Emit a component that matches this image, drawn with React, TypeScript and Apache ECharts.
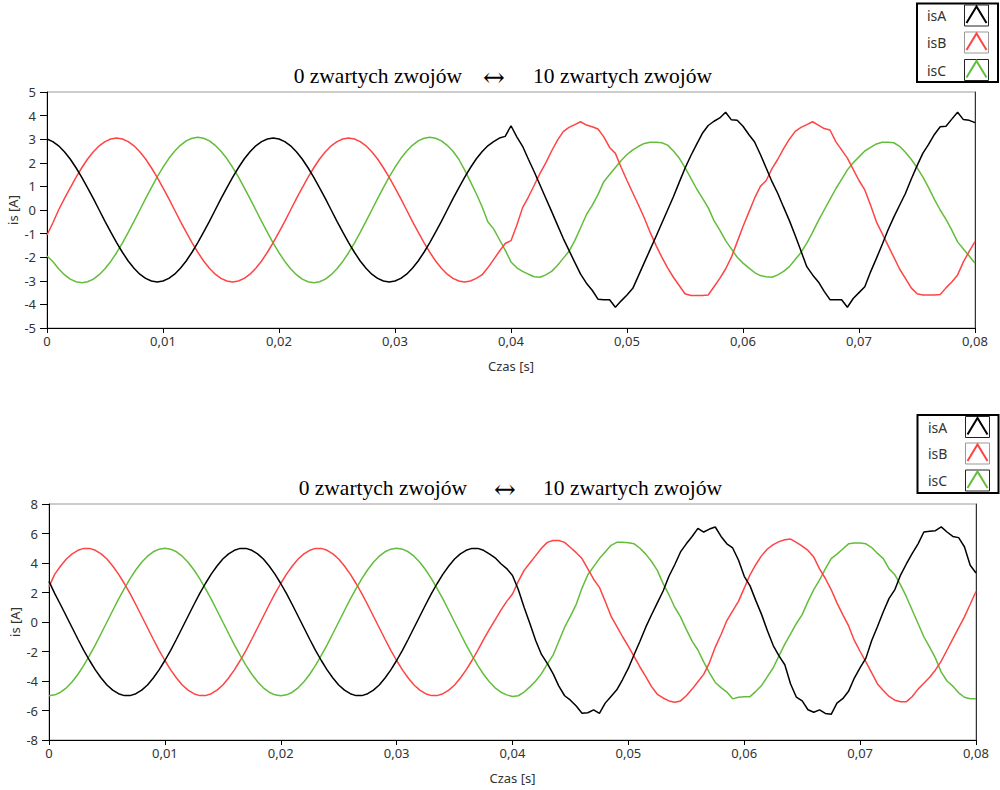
import React, { useEffect, useRef } from "react";
import * as echarts from "echarts";

// sample times in milliseconds (0 .. 80 ms)
const T_MS = [
  0, 0.5, 1, 1.5, 2, 2.5, 3, 3.5, 4, 4.5, 5, 5.5, 6, 6.5, 7, 7.5, 8, 8.5, 9, 9.5,
  10, 10.5, 11, 11.5, 12, 12.5, 13, 13.5, 14, 14.5, 15, 15.5, 16, 16.5, 17, 17.5, 18, 18.5, 19, 19.5,
  20, 20.5, 21, 21.5, 22, 22.5, 23, 23.5, 24, 24.5, 25, 25.5, 26, 26.5, 27, 27.5, 28, 28.5, 29, 29.5,
  30, 30.5, 31, 31.5, 32, 32.5, 33, 33.5, 34, 34.5, 35, 35.5, 36, 36.5, 37, 37.5, 38, 38.5, 39, 39.5,
  40, 40.5, 41, 41.5, 42, 42.5, 43, 43.5, 44, 44.5, 45, 45.5, 46, 46.5, 47, 47.5, 48, 48.5, 49, 49.5,
  50, 50.5, 51, 51.5, 52, 52.5, 53, 53.5, 54, 54.5, 55, 55.5, 56, 56.5, 57, 57.5, 58, 58.5, 59, 59.5,
  60, 60.5, 61, 61.5, 62, 62.5, 63, 63.5, 64, 64.5, 65, 65.5, 66, 66.5, 67, 67.5, 68, 68.5, 69, 69.5,
  70, 70.5, 71, 71.5, 72, 72.5, 73, 73.5, 74, 74.5, 75, 75.5, 76, 76.5, 77, 77.5, 78, 78.5, 79, 79.5,
  80,
];

// ---- top chart (A) ----
const TOP_ISA = [
  3.01, 2.9, 2.72, 2.47, 2.16, 1.79, 1.38, 0.94, 0.48, 0, -0.48, -0.94, -1.38, -1.79, -2.16, -2.47, -2.72, -2.9, -3.01, -3.05,
  -3.01, -2.9, -2.72, -2.47, -2.16, -1.79, -1.38, -0.94, -0.48, 0, 0.48, 0.94, 1.38, 1.79, 2.16, 2.47, 2.72, 2.9, 3.01, 3.05,
  3.01, 2.9, 2.72, 2.47, 2.16, 1.79, 1.38, 0.94, 0.48, 0, -0.48, -0.94, -1.38, -1.79, -2.16, -2.47, -2.72, -2.9, -3.01, -3.05,
  -3.01, -2.9, -2.72, -2.47, -2.16, -1.79, -1.38, -0.94, -0.48, 0, 0.48, 0.94, 1.38, 1.79, 2.16, 2.47, 2.72, 2.9, 3.05, 3.12,
  3.57, 3.1, 2.7, 2.15, 1.62, 1.06, 0.5, -0.06, -0.63, -1.2, -1.71, -2.22, -2.72, -3.1, -3.4, -3.78, -3.8, -3.8, -4.12, -3.85,
  -3.6, -3.32, -2.77, -2.22, -1.67, -1.12, -0.56, 0.0, 0.56, 1.17, 1.77, 2.3, 2.78, 3.25, 3.58, 3.76, 3.9, 4.14, 3.82, 3.8,
  3.55, 3.2, 2.88, 2.35, 1.78, 1.2, 0.7, 0.12, -0.45, -1.08, -1.74, -2.4, -2.75, -3.05, -3.45, -3.8, -3.8, -3.8, -4.12, -3.75,
  -3.5, -3.25, -2.62, -2.05, -1.46, -0.85, -0.3, 0.2, 0.7, 1.3, 1.87, 2.4, 2.78, 3.2, 3.53, 3.55, 3.85, 4.14, 3.83, 3.8,
  3.7,
];
const TOP_ISB = [
  -1.06, -0.55, 0, 0.48, 0.94, 1.38, 1.79, 2.16, 2.47, 2.72, 2.9, 3.01, 3.05, 3.01, 2.9, 2.72, 2.47, 2.16, 1.79, 1.38,
  0.94, 0.48, 0, -0.48, -0.94, -1.38, -1.79, -2.16, -2.47, -2.72, -2.9, -3.01, -3.05, -3.01, -2.9, -2.72, -2.47, -2.16, -1.79, -1.38,
  -0.94, -0.48, 0, 0.48, 0.94, 1.38, 1.79, 2.16, 2.47, 2.72, 2.9, 3.01, 3.05, 3.01, 2.9, 2.72, 2.47, 2.16, 1.79, 1.38,
  0.94, 0.48, 0, -0.48, -0.94, -1.38, -1.79, -2.16, -2.47, -2.72, -2.9, -3.01, -3.05, -3.01, -2.9, -2.75, -2.45, -2.1, -1.75, -1.42,
  -1.3, -0.65, 0.1, 0.55, 1.05, 1.55, 2.0, 2.5, 2.95, 3.32, 3.5, 3.62, 3.74, 3.6, 3.53, 3.43, 3.1, 2.65, 2.4, 1.8,
  1.25, 0.72, 0.2, -0.35, -0.95, -1.5, -2.0, -2.45, -2.85, -3.2, -3.55, -3.62, -3.62, -3.62, -3.6, -3.25, -2.9, -2.5, -2.0, -1.35,
  -0.7, -0.1, 0.5, 1.0, 1.25, 1.75, 2.15, 2.6, 3.0, 3.33, 3.5, 3.62, 3.74, 3.6, 3.45, 3.39, 2.9, 2.55, 2.2, 1.72,
  1.25, 0.85, 0.2, -0.5, -1.0, -1.5, -2.0, -2.5, -2.9, -3.3, -3.55, -3.6, -3.6, -3.6, -3.58, -3.3, -3.05, -2.75, -2.2, -1.75,
  -1.34,
];
const TOP_ISC = [
  -1.95, -2.18, -2.49, -2.74, -2.93, -3.04, -3.08, -3.04, -2.93, -2.74, -2.49, -2.18, -1.81, -1.4, -0.95, -0.48, 0, 0.48, 0.95, 1.4,
  1.81, 2.18, 2.49, 2.74, 2.93, 3.04, 3.08, 3.04, 2.93, 2.74, 2.49, 2.18, 1.81, 1.4, 0.95, 0.48, 0, -0.48, -0.95, -1.4,
  -1.81, -2.18, -2.49, -2.74, -2.93, -3.04, -3.08, -3.04, -2.93, -2.74, -2.49, -2.18, -1.81, -1.4, -0.95, -0.48, 0, 0.48, 0.95, 1.4,
  1.81, 2.18, 2.49, 2.74, 2.93, 3.04, 3.08, 3.04, 2.93, 2.74, 2.49, 2.15, 1.7, 1.2, 0.7, 0.15, -0.5, -0.8, -1.25, -1.7,
  -2.2, -2.45, -2.6, -2.72, -2.83, -2.85, -2.75, -2.6, -2.35, -2.05, -1.75, -1.3, -0.75, -0.2, 0.2, 0.65, 1.2, 1.5, 1.8, 2.1,
  2.35, 2.55, 2.7, 2.82, 2.87, 2.87, 2.85, 2.75, 2.5, 2.2, 1.8, 1.35, 0.9, 0.5, 0.1, -0.45, -0.85, -1.3, -1.65, -2.0,
  -2.25, -2.45, -2.65, -2.78, -2.83, -2.85, -2.75, -2.6, -2.4, -2.1, -1.8, -1.4, -0.95, -0.45, 0.0, 0.45, 0.9, 1.3, 1.7, 2.0,
  2.25, 2.5, 2.65, 2.8, 2.87, 2.87, 2.85, 2.7, 2.45, 2.15, 1.8, 1.4, 0.95, 0.45, 0.0, -0.4, -0.85, -1.35, -1.65, -1.95,
  -2.26,
];

// ---- bottom chart (B) ----
const BOT_ISA = [
  2.75, 1.92, 1.17, 0.39, -0.39, -1.17, -1.92, -2.61, -3.25, -3.8, -4.27, -4.62, -4.86, -4.99, -4.99, -4.86, -4.62, -4.27, -3.8, -3.25,
  -2.61, -1.92, -1.17, -0.39, 0.39, 1.17, 1.92, 2.61, 3.25, 3.8, 4.27, 4.62, 4.86, 4.99, 4.99, 4.86, 4.62, 4.27, 3.8, 3.25,
  2.61, 1.92, 1.17, 0.39, -0.39, -1.17, -1.92, -2.61, -3.25, -3.8, -4.27, -4.62, -4.86, -4.99, -4.99, -4.86, -4.62, -4.27, -3.8, -3.25,
  -2.61, -1.92, -1.17, -0.39, 0.39, 1.17, 1.92, 2.61, 3.25, 3.8, 4.27, 4.62, 4.86, 4.99, 4.99, 4.86, 4.62, 4.35, 3.95, 3.62,
  3.15, 2.2, 1.0, -0.1, -1.25, -2.2, -2.8, -3.5, -4.35, -5.0, -5.3, -5.7, -6.19, -6.15, -5.96, -6.19, -5.5, -5.05, -4.6, -3.9,
  -3.13, -2.2, -1.3, -0.35, 0.49, 1.3, 2.1, 3.1, 3.88, 4.75, 5.3, 5.8, 6.35, 6.1, 6.3, 6.44, 5.8, 5.3, 5.02, 4.2,
  3.1, 2.45, 1.45, 0.5, -0.6, -1.6, -2.3, -2.9, -4.2, -5.1, -5.35, -5.95, -6.12, -5.96, -6.2, -6.26, -5.5, -5.2, -4.7, -3.8,
  -3.1, -2.45, -1.25, -0.3, 0.7, 1.6, 2.2, 3.2, 3.95, 4.65, 5.3, 6.1, 6.15, 6.19, 6.45, 6.1, 5.8, 5.72, 5.1, 3.85,
  3.32,
];
const BOT_ISB = [
  2.4, 3.25, 3.8, 4.27, 4.62, 4.86, 4.99, 4.99, 4.86, 4.62, 4.27, 3.8, 3.25, 2.61, 1.92, 1.17, 0.39, -0.39, -1.17, -1.92,
  -2.61, -3.25, -3.8, -4.27, -4.62, -4.86, -4.99, -4.99, -4.86, -4.62, -4.27, -3.8, -3.25, -2.61, -1.92, -1.17, -0.39, 0.39, 1.17, 1.92,
  2.61, 3.25, 3.8, 4.27, 4.62, 4.86, 4.99, 4.99, 4.86, 4.62, 4.27, 3.8, 3.25, 2.61, 1.92, 1.17, 0.39, -0.39, -1.17, -1.92,
  -2.61, -3.25, -3.8, -4.27, -4.62, -4.86, -4.99, -4.99, -4.86, -4.62, -4.27, -3.8, -3.25, -2.61, -1.92, -1.2, -0.5, 0.15, 0.8, 1.4,
  1.9, 2.75, 3.5, 4.0, 4.5, 5.0, 5.4, 5.53, 5.53, 5.4, 5.05, 4.7, 4.3, 3.6, 2.9, 2.35, 1.4, 0.4, -0.3, -1.0,
  -1.65, -2.35, -3.05, -3.7, -4.38, -4.9, -5.15, -5.35, -5.44, -5.35, -5.0, -4.55, -4.05, -3.55, -2.75, -1.7, -0.85, 0.1, 0.75, 1.4,
  2.3, 3.2, 3.9, 4.5, 4.95, 5.24, 5.45, 5.58, 5.62, 5.4, 5.15, 4.85, 4.4, 3.6, 2.95, 2.2, 1.3, 0.5, -0.25, -1.25,
  -2.0, -2.7, -3.45, -4.2, -4.65, -5.05, -5.3, -5.4, -5.4, -5.05, -4.55, -4.15, -3.75, -3.25, -2.65, -1.9, -1.15, -0.4, 0.35, 1.2,
  2.07,
];
const BOT_ISC = [
  -5.0, -4.94, -4.76, -4.46, -4.05, -3.54, -2.94, -2.27, -1.55, -0.78, 0, 0.78, 1.55, 2.27, 2.94, 3.54, 4.05, 4.46, 4.76, 4.94,
  5.0, 4.94, 4.76, 4.46, 4.05, 3.54, 2.94, 2.27, 1.55, 0.78, 0, -0.78, -1.55, -2.27, -2.94, -3.54, -4.05, -4.46, -4.76, -4.94,
  -5.0, -4.94, -4.76, -4.46, -4.05, -3.54, -2.94, -2.27, -1.55, -0.78, 0, 0.78, 1.55, 2.27, 2.94, 3.54, 4.05, 4.46, 4.76, 4.94,
  5.0, 4.94, 4.76, 4.46, 4.05, 3.54, 2.94, 2.27, 1.55, 0.78, 0, -0.78, -1.55, -2.27, -2.94, -3.54, -4.05, -4.46, -4.76, -4.94,
  -5.05, -5.0, -4.75, -4.4, -4.0, -3.5, -2.85, -2.25, -1.3, -0.35, 0.4, 1.2, 2.3, 3.2, 3.75, 4.3, 4.75, 5.2, 5.4, 5.4,
  5.38, 5.3, 5.0, 4.6, 4.1, 3.5, 2.6, 1.85, 1.0, 0.35, -0.5, -1.3, -1.9, -2.7, -3.45, -4.1, -4.45, -4.75, -5.21, -5.1,
  -5.06, -5.06, -4.7, -4.3, -3.7, -3.1, -2.3, -1.5, -0.8, -0.1, 0.5, 1.4, 2.2, 2.85, 3.6, 4.3, 4.6, 4.95, 5.3, 5.36,
  5.35, 5.3, 5.05, 4.65, 4.3, 3.6, 3.2, 2.5, 1.7, 0.8, -0.1, -1.0, -1.7, -2.45, -3.4, -4.0, -4.35, -4.8, -5.1, -5.2,
  -5.21,
];

const SERIES_NAMES = ["isA", "isB", "isC"];
const SERIES_COLORS = ["#000000", "#ff4444", "#63bd3b"];
const TITLE_LEFT = "0 zwartych zwojów";
const TITLE_ARROW = "↔";
const TITLE_RIGHT = "10 zwartych zwojów";
const X_NAME = "Czas [s]";
const Y_NAME = "is [A]";
const TOP_Y = { min: -5, max: 5, interval: 1 };
const BOT_Y = { min: -8, max: 8, interval: 2 };

const SANS = "'Segoe UI', 'Noto Sans', 'Open Sans', sans-serif";
const SERIF = "'Liberation Serif', 'Times New Roman', serif";

function pairs(vals: number[]) {
  return T_MS.map((t, i) => [t, vals[i]]);
}

export default function App() {
  const ref = useRef<HTMLDivElement>(null);

  useEffect(() => {
    const chart = echarts.init(ref.current!, null, { renderer: "svg" });

    const grids = [
      { left: 47, top: 92, width: 928, height: 236 },
      { left: 49, top: 504, width: 927, height: 236 },
    ];

    const xFmt = (v: number) => (v === 0 ? "0" : (v / 1000).toFixed(2).replace(".", ","));

    const xAxes = grids.map((_, gi) => ({
      type: "value",
      gridIndex: gi,
      min: 0,
      max: 80,
      interval: 10,
      axisLine: { show: true, onZero: false, lineStyle: { color: "#000", width: 1 } },
      axisTick: { show: true, length: 5, lineStyle: { color: "#000" } },
      axisLabel: { formatter: xFmt, color: "#333", fontSize: 13, fontFamily: SANS, margin: 6 },
      splitLine: { show: false },
      name: X_NAME,
      nameLocation: "middle",
      nameGap: 31,
      nameMoveOverlap: false,
      nameTextStyle: { color: "#333", fontSize: 13, fontFamily: SANS },
    }));

    const yCfg = [TOP_Y, BOT_Y];
    const yAxes: any[] = yCfg.map((c, gi) => ({
      type: "value",
      gridIndex: gi,
      min: c.min,
      max: c.max,
      interval: c.interval,
      axisLine: { show: true, onZero: false, lineStyle: { color: "#000", width: 1 } },
      axisTick: { show: true, length: 7, lineStyle: { color: "#000" } },
      axisLabel: { color: "#333", fontSize: 13, fontFamily: SANS, margin: 11 },
      splitLine: { show: false },
      name: Y_NAME,
      nameLocation: "middle",
      nameGap: 28,
      nameRotate: 90,
      nameMoveOverlap: false,
      nameTextStyle: { color: "#333", fontSize: 13, fontFamily: SANS },
    }));
    yCfg.forEach((c, gi) => {
      yAxes.push({
        type: "value",
        gridIndex: gi,
        position: "right",
        min: c.min,
        max: c.max,
        interval: c.interval,
        axisLine: { show: true, onZero: false, lineStyle: { color: "#333", width: 1 } },
        axisTick: { show: false },
        axisLabel: { show: false },
        splitLine: { show: false },
      });
    });

    const data = [
      [TOP_ISA, TOP_ISB, TOP_ISC],
      [BOT_ISA, BOT_ISB, BOT_ISC],
    ];
    const series: any[] = [];
    data.forEach((group, gi) => {
      group.forEach((vals, si) => {
        series.push({
          type: "line",
          name: SERIES_NAMES[si],
          xAxisIndex: gi,
          yAxisIndex: gi,
          data: pairs(vals),
          showSymbol: false,
          symbol: "none",
          lineStyle: { color: SERIES_COLORS[si], width: 1.5 },
          itemStyle: { color: SERIES_COLORS[si] },
          z: 3 - si,
        });
      });
    });

    const titleFont = `21.5px ${SERIF}`;
    const arrowFont = `26px 'DejaVu Serif', 'DejaVu Sans', serif`;
    const makeTitle = (y: number, leftEnd: number, arrowX: number, rightStart: number) => [
      { type: "text", x: leftEnd, y, style: { text: TITLE_LEFT, font: titleFont, fill: "#000", align: "right", verticalAlign: "middle" } },
      { type: "text", x: arrowX, y: y + 1, style: { text: TITLE_ARROW, font: arrowFont, fill: "#000", align: "center", verticalAlign: "middle" } },
      { type: "text", x: rightStart, y, style: { text: TITLE_RIGHT, font: titleFont, fill: "#000", align: "left", verticalAlign: "middle" } },
    ];

    const makeLegend = (bx: number, by: number, bw: number, bh: number, textX: number, iconX: number, iconTops: number[]) => {
      const els: any[] = [
        { type: "rect", shape: { x: bx, y: by, width: bw, height: bh }, style: { fill: "#fff", stroke: "#000", lineWidth: 2 }, z: 10 },
      ];
      iconTops.forEach((ty, i) => {
        const w = 24, h = 21;
        els.push({
          type: "text", x: textX, y: ty + h / 2, z: 11,
          style: { text: SERIES_NAMES[i], font: `14px ${SANS}`, fill: "#333", align: "left", verticalAlign: "middle" },
        });
        els.push({
          type: "rect", z: 11, shape: { x: iconX, y: ty, width: w, height: h },
          style: { fill: "#fff", stroke: i === 1 ? "#999" : "#222", lineWidth: 1 },
        });
        els.push({
          type: "polyline", z: 12,
          shape: { points: [[iconX + 2, ty + h - 3], [iconX + w / 2, ty + 1.5], [iconX + w - 2, ty + h - 3]] },
          style: { stroke: SERIES_COLORS[i], lineWidth: 2, fill: null },
        });
      });
      return els;
    };

    const graphic = [
      ...makeTitle(76, 462, 494, 533),
      ...makeTitle(488, 467, 505, 543),
      ...makeLegend(917, 3.5, 81, 78.5, 927, 964.5, [5, 32, 59.5]),
      ...makeLegend(917.5, 415, 81, 78, 928, 965.5, [416.5, 443, 470]),
    ];

    chart.setOption({
      animation: false,
      backgroundColor: "#ffffff",
      grid: grids.map((g) => ({
        ...g,
        show: true,
        borderColor: "#9a9a9a",
        borderWidth: 1,
        backgroundColor: "transparent",
        containLabel: false,
        outerBoundsMode: "none",
      })),
      xAxis: xAxes,
      yAxis: yAxes,
      series,
      graphic,
    });

    return () => chart.dispose();
  }, []);

  return (
    <div
      ref={ref}
      style={{ position: "fixed", left: 0, top: 0, width: 1000, height: 790, background: "#fff" }}
    />
  );
}
